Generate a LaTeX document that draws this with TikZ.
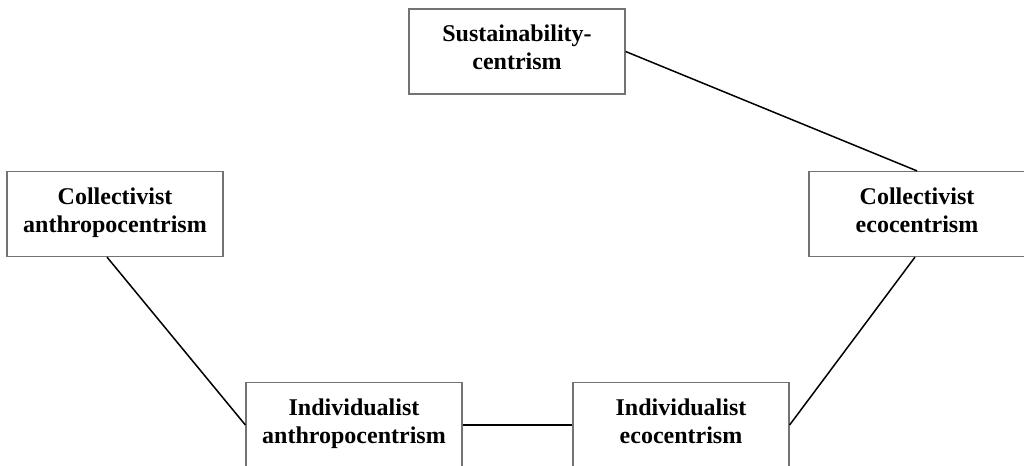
\documentclass[tikz,border=0pt]{standalone}
\usepackage{fontspec}
\setmainfont{Liberation Serif}
\usepackage{tikz}
\usetikzlibrary{positioning}

\begin{document}
\begin{tikzpicture}[x=0.5pt, y=-0.5pt,
        box/.style={draw=black!55, line width=0.6pt, fill=white,
            minimum width=108pt, minimum height=42.5pt,
            align=center, font=\fontsize{12}{14}\selectfont\bfseries,
            text depth=4pt},
        link/.style={black, line width=0.75pt}]
        \useasboundingbox (0,0) rectangle (1024,466);

        % --- Boxes ---
        \node[box] (sust)  at (517,51.5) {Sustainability-\\centrism};
        \node[box] (canth) at (115,214)  {Collectivist\\anthropocentrism};
        \node[box] (ceco)  at (917,214)  {Collectivist\\ecocentrism};
        \node[box] (ianth) at (354,425)  {Individualist\\anthropocentrism};
        \node[box] (ieco)  at (681,425)  {Individualist\\ecocentrism};

        % --- Links ---
        \draw[link] (sust.east) -- (ceco.north);
        \draw[link] ([xshift=-4pt]canth.south) -- (ianth.west);
        \draw[link] (ianth.east) -- (ieco.west);
        \draw[link] ([xshift=-1pt]ceco.south) -- (ieco.east);
    \end{tikzpicture}
\end{document}
